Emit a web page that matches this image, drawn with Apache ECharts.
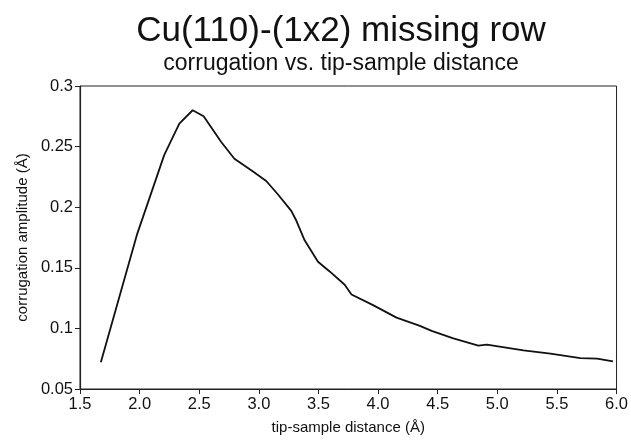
<!DOCTYPE html>
<html>
<head>
<meta charset="utf-8">
<script src="https://cdn.jsdelivr.net/npm/echarts@6/dist/echarts.min.js"></script>
<style>
  html, body { margin: 0; padding: 0; background: #fff; }
  #chart { width: 631px; height: 440px; }
</style>
</head>
<body>
<div id="chart"></div>
<script>
// tip-sample distance (Å)
const distance = [
  1.675, 1.98, 2.206, 2.333, 2.445, 2.537, 2.683, 2.795, 2.936, 3.062,
  3.159, 3.272, 3.314, 3.384, 3.496, 3.594, 3.72, 3.777, 3.958, 4.155,
  4.351, 4.449, 4.631, 4.841, 4.912, 5.22, 5.445, 5.697, 5.837, 5.97,
];
// corrugation amplitude (Å)
const amplitude = [
  0.072, 0.178, 0.243, 0.269, 0.280, 0.275, 0.254, 0.240, 0.2305, 0.2216,
  0.2107, 0.197, 0.189, 0.1727, 0.155, 0.147, 0.136, 0.128, 0.1192, 0.1089,
  0.1021, 0.098, 0.0918, 0.0858, 0.0867, 0.0818, 0.0791, 0.0755, 0.075, 0.0728,
];

const font = 'Liberation Sans, Arial, Helvetica, sans-serif';
const ink = '#111';

const chart = echarts.init(document.getElementById('chart'));
chart.setOption({
  backgroundColor: '#fff',
  animation: false,
  title: [
    {
      text: 'Cu(110)-(1x2) missing row',
      left: 336, top: 9, textAlign: 'center',
      textStyle: { fontFamily: font, fontSize: 35, fontWeight: 'normal', color: ink },
    },
    {
      text: 'corrugation vs. tip-sample distance',
      left: 336, top: 47, textAlign: 'center',
      textStyle: { fontFamily: font, fontSize: 23, fontWeight: 'normal', color: ink },
    },
  ],
  grid: {
    left: 80, top: 86, width: 537, height: 308,
    show: true, borderColor: '#222', borderWidth: 1, backgroundColor: 'transparent',
  },
  xAxis: {
    type: 'value', min: 1.5, max: 6, interval: 0.5,
    name: 'tip-sample distance (Å)', nameLocation: 'middle', nameGap: 31,
    nameTextStyle: { fontFamily: font, fontSize: 15, color: ink },
    axisLine: { lineStyle: { color: '#222', width: 1.2 } },
    axisTick: { length: 5, lineStyle: { color: '#222' } },
    axisLabel: { fontFamily: font, fontSize: 16.5, color: ink, margin: 7, formatter: v => v.toFixed(1) },
    splitLine: { show: false },
  },
  yAxis: {
    type: 'value', min: 0.05, max: 0.3, interval: 0.05,
    name: 'corrugation amplitude (Å)', nameLocation: 'middle', nameGap: 50,
    nameTextStyle: { fontFamily: font, fontSize: 15, color: ink },
    axisLine: { show: true, lineStyle: { color: '#222', width: 1.2 } },
    axisTick: { show: true, length: 5, lineStyle: { color: '#222' } },
    axisLabel: { fontFamily: font, fontSize: 16.5, color: ink, margin: 7 },
    splitLine: { show: false },
  },
  series: [{
    type: 'line',
    data: distance.map((d, i) => [d, amplitude[i]]),
    showSymbol: false,
    lineStyle: { color: ink, width: 1.8 },
  }],
});
</script>
</body>
</html>
